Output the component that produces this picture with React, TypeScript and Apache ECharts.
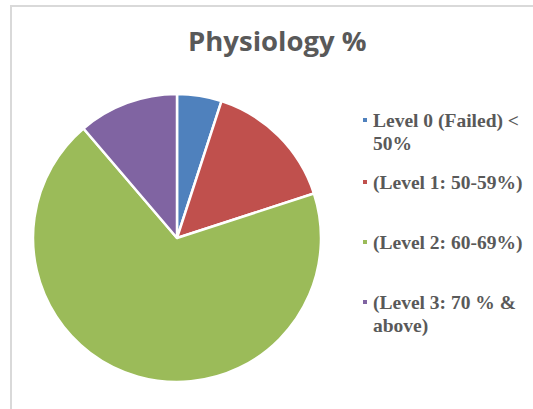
import React, { useEffect, useRef } from "react";
import * as echarts from "echarts";

const titleText = "Physiology %";
const categories = [
  "Level 0 (Failed) < 50%",
  "(Level 1: 50-59%)",
  "(Level 2: 60-69%)",
  "(Level 3: 70 % & above)",
];
const legendLabels = [
  "Level 0 (Failed) <\n50%",
  "(Level 1: 50-59%)",
  "(Level 2: 60-69%)",
  "(Level 3: 70 % &\nabove)",
];
const counts = [4, 12, 55, 9];
const colors = ["#4F81BD", "#C0504D", "#9BBB59", "#8064A2"];

const legendCenters = [120, 182, 242, 302];
const LINE_H = 23;

export default function App() {
  const ref = useRef<HTMLDivElement>(null);
  useEffect(() => {
    document.body.style.margin = "0";
    if (!ref.current) return;
    const chart = echarts.init(ref.current, undefined, { renderer: "svg" });

    const legends = categories.map((name, i) => {
      const twoLine = legendLabels[i].indexOf("\n") >= 0;
      // a blank leading line keeps the marker level with the first text line
      const label = twoLine ? " \n" + legendLabels[i] : legendLabels[i];
      const nLines = label.split("\n").length;
      return {
        data: [{ name, icon: "rect" }],
        left: 361,
        top: legendCenters[i] - (nLines * LINE_H) / 2,
        padding: 0,
        itemWidth: 6,
        itemHeight: 6,
        selectedMode: false,
        formatter: () => label,
        textStyle: {
          fontFamily: "Liberation Serif",
          fontWeight: "bold",
          fontSize: 19.5,
          color: "#595959",
          lineHeight: LINE_H,
        },
      };
    });

    chart.setOption({
      animation: false,
      backgroundColor: "#ffffff",
      title: {
        text: titleText,
        left: 188,
        top: 26,
        padding: 0,
        textStyle: {
          fontFamily: "Open Sans",
          fontWeight: "bold",
          fontSize: 27.5,
          color: "#595959",
        },
      },
      graphic: [
        {
          type: "rect",
          shape: { x: 11, y: 6, width: 700, height: 600 },
          style: { fill: "none", stroke: "#d9d9d9", lineWidth: 2 },
          silent: true,
          z: -1,
        },
      ],
      legend: legends,
      series: [
        {
          type: "pie",
          center: [177, 238],
          radius: [0, 144],
          startAngle: 90,
          clockwise: true,
          label: { show: false },
          labelLine: { show: false },
          emphasis: { disabled: true },
          itemStyle: { borderColor: "#ffffff", borderWidth: 2.5 },
          data: categories.map((name, i) => ({
            name,
            value: counts[i],
            itemStyle: { color: colors[i] },
          })),
        },
      ],
    });
    return () => chart.dispose();
  }, []);
  return <div ref={ref} style={{ width: 533, height: 409 }} />;
}
